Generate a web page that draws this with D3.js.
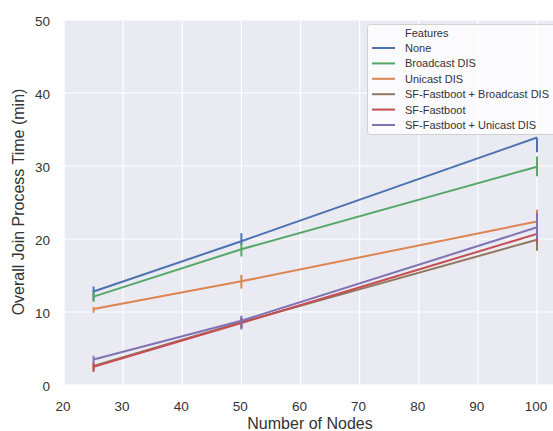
<!DOCTYPE html>
<html><head><meta charset="utf-8">
<script src="https://cdn.jsdelivr.net/npm/d3@7"></script>
<style>
html,body{margin:0;padding:0;background:#fff;}
svg{display:block;}
text{font-family:"Liberation Sans",Arial,Helvetica,sans-serif;}
</style></head>
<body>
<svg id="chart" width="553" height="431"></svg>
<script>
const nodes = [25, 50, 100];
const seriesNames = ["None","Broadcast DIS","Unicast DIS","SF-Fastboot + Broadcast DIS","SF-Fastboot","SF-Fastboot + Unicast DIS"];
const seriesColors = ["#4c72b0","#55a868","#dd8452","#937860","#c44e52","#8172b3"];
const meanNone = [12.8, 19.7, 33.9];
const meanBroadcast = [12.1, 18.6, 29.9];
const meanUnicast = [10.4, 14.2, 22.4];
const meanSFBroadcast = [2.6, 8.6, 19.9];
const meanSF = [2.5, 8.5, 20.7];
const meanSFUnicast = [3.5, 8.8, 21.6];
const lowNone = [11.6, 19.2, 31.9];
const highNone = [13.5, 20.8, 33.9];
const lowBroadcast = [11.4, 17.6, 28.6];
const highBroadcast = [12.8, 19.4, 31.3];
const lowUnicast = [9.9, 13.2, 21.5];
const highUnicast = [10.7, 15.1, 24.0];
const lowSFBroadcast = [2.0, 8.0, 18.4];
const highSFBroadcast = [3.0, 9.2, 20.8];
const lowSF = [1.8, 7.8, 19.5];
const highSF = [3.0, 9.2, 22.0];
const lowSFUnicast = [3.0, 7.6, 20.0];
const highSFUnicast = [4.0, 9.5, 23.6];
const xTicks = [20,30,40,50,60,70,80,90,100];
const yTicks = [0,10,20,30,40,50];

const means = [meanNone, meanBroadcast, meanUnicast, meanSFBroadcast, meanSF, meanSFUnicast];
const lows = [lowNone, lowBroadcast, lowUnicast, lowSFBroadcast, lowSF, lowSFUnicast];
const highs = [highNone, highBroadcast, highUnicast, highSFBroadcast, highSF, highSFUnicast];

const svg = d3.select("#chart");
const L = 64, T = 20, B = 385;
const x = d3.scaleLinear().domain([20, 100]).range([L, 537]);
const xEnd = x(103.75);
const y = d3.scaleLinear().domain([0, 50]).range([B, T]);

svg.append("rect").attr("x", L).attr("y", T).attr("width", xEnd - L).attr("height", B - T).attr("fill", "#eaeaf2");

const g = svg.append("g");
g.selectAll(".gx").data(xTicks).enter().append("line")
  .attr("x1", d => x(d)).attr("x2", d => x(d)).attr("y1", T).attr("y2", B)
  .attr("stroke", "#fff").attr("stroke-width", 1.2);
g.selectAll(".gy").data(yTicks).enter().append("line")
  .attr("x1", L).attr("x2", xEnd).attr("y1", d => y(d)).attr("y2", d => y(d))
  .attr("stroke", "#fff").attr("stroke-width", 1.2);

// tick labels
svg.selectAll(".xt").data(xTicks).enter().append("text")
  .attr("x", d => x(d) - 1).attr("y", 411).attr("text-anchor", "middle")
  .attr("font-size", 13.5).attr("fill", "#333").text(d => d);
svg.selectAll(".yt").data(yTicks).enter().append("text")
  .attr("x", 50).attr("y", d => y(d) + 5.5).attr("text-anchor", "end")
  .attr("font-size", 13.5).attr("fill", "#333").text(d => d);

svg.append("text").attr("x", 310).attr("y", 429).attr("text-anchor", "middle")
  .attr("font-size", 16).attr("fill", "#333").text("Number of Nodes");
svg.append("text").attr("transform", "translate(24,202) rotate(-90)").attr("text-anchor", "middle")
  .attr("font-size", 16).attr("fill", "#333").text("Overall Join Process Time (min)");

const line = d3.line().x(d => x(d[0])).y(d => y(d[1]));
seriesNames.forEach((name, i) => {
  const pts = nodes.map((n, j) => [n, means[i][j]]);
  const sg = svg.append("g");
  sg.append("path").datum(pts).attr("d", line).attr("fill", "none")
    .attr("stroke", seriesColors[i]).attr("stroke-width", 2);
  sg.selectAll("line").data(nodes).enter().append("line")
    .attr("x1", d => x(d)).attr("x2", d => x(d))
    .attr("y1", (d, j) => y(lows[i][j])).attr("y2", (d, j) => y(highs[i][j]))
    .attr("stroke", seriesColors[i]).attr("stroke-width", 2);
});

// legend
const lg = svg.append("g");
lg.append("rect").attr("x", 367.5).attr("y", 24.5).attr("width", 190).attr("height", 110)
  .attr("rx", 3).attr("fill", "#fff").attr("fill-opacity", 0.8).attr("stroke", "#d0d0d0");
lg.append("text").attr("x", 405).attr("y", 37).attr("font-size", 11).attr("fill", "#333").text("Features");
seriesNames.forEach((name, i) => {
  const yy = 48 + i * 15.4;
  lg.append("line").attr("x1", 372).attr("x2", 395).attr("y1", yy).attr("y2", yy)
    .attr("stroke", seriesColors[i]).attr("stroke-width", 2);
  lg.append("text").attr("x", 405).attr("y", yy + 4).attr("font-size", 11).attr("fill", "#333").text(name);
});
</script>
</body></html>
